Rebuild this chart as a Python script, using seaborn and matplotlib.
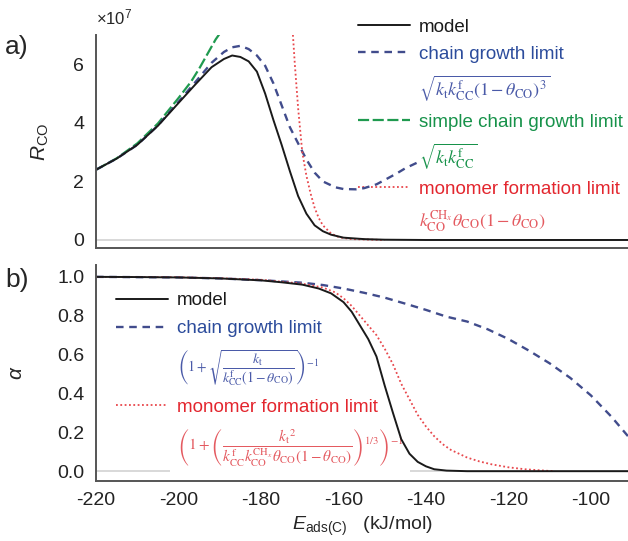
import numpy as np
import seaborn as sns
import matplotlib.pyplot as plt
from matplotlib.lines import Line2D

# ---- panel a) R_CO (units of 1e7) ----
e_model_a = [-220, -215, -210, -205, -200, -196, -192, -189, -187, -185, -183, -181, -179,
             -177, -175, -173, -171, -169, -167, -165, -163, -160, -155, -150, -140, -91]
r_model_a = [2.40, 2.78, 3.25, 3.90, 4.68, 5.30, 5.90, 6.18, 6.30, 6.25, 6.10, 5.75, 5.00,
             4.10, 3.25, 2.35, 1.50, 0.90, 0.50, 0.30, 0.18, 0.08, 0.03, 0.01, 0.0, 0.0]

e_chain_a = [-220, -215, -210, -205, -200, -196, -192, -189, -187, -185, -183, -181, -179,
             -177, -175, -173, -171, -169, -167, -165, -162, -160, -157, -155, -152, -150,
             -147, -145, -142]
r_chain_a = [2.40, 2.78, 3.25, 3.91, 4.72, 5.38, 6.05, 6.42, 6.58, 6.63, 6.52, 6.30, 5.95,
             5.35, 4.60, 3.85, 3.30, 2.75, 2.30, 2.00, 1.80, 1.74, 1.73, 1.77, 1.90, 2.05,
             2.28, 2.45, 2.65]

e_simple_a = [-220, -215, -210, -205, -200, -197, -195, -193, -191, -190]
r_simple_a = [2.40, 2.79, 3.30, 3.98, 4.85, 5.40, 5.85, 6.35, 6.85, 7.05]

e_mono_a = [-172.4, -171.8, -171, -170, -169, -168, -167, -166, -165, -163, -161, -158, -150]
r_mono_a = [7.30, 6.00, 4.50, 3.00, 2.20, 1.60, 1.10, 0.75, 0.50, 0.22, 0.09, 0.03, 0.0]

# ---- panel b) alpha ----
e_model_b = [-220, -210, -200, -190, -180, -175, -170, -166, -163, -160, -158, -156, -154,
             -152, -150, -148, -146, -144, -142, -140, -138, -135, -130, -91]
a_model_b = [1.0, 0.999, 0.997, 0.992, 0.982, 0.972, 0.960, 0.940, 0.915, 0.870, 0.820, 0.750,
             0.680, 0.590, 0.440, 0.300, 0.165, 0.090, 0.048, 0.025, 0.010, 0.003, 0.0, 0.0]

e_chain_b = [-220, -200, -190, -180, -170, -165, -160, -155, -150, -145, -140, -135, -130,
             -125, -120, -115, -110, -105, -100, -95, -91]
a_chain_b = [1.0, 0.997, 0.992, 0.983, 0.970, 0.958, 0.940, 0.918, 0.893, 0.862, 0.830, 0.795,
             0.770, 0.730, 0.680, 0.620, 0.555, 0.480, 0.390, 0.280, 0.180]

e_mono_b = [-220, -200, -190, -180, -170, -165, -162, -160, -158, -156, -154, -152, -150,
            -148, -146, -144, -142, -140, -138, -136, -134, -132, -130, -127, -124, -120,
            -116, -112, -109]
a_mono_b = [1.0, 0.998, 0.993, 0.985, 0.965, 0.945, 0.920, 0.890, 0.850, 0.800, 0.750, 0.700,
            0.630, 0.550, 0.450, 0.370, 0.290, 0.230, 0.180, 0.140, 0.110, 0.090, 0.070,
            0.050, 0.035, 0.020, 0.010, 0.004, 0.0]

x_ticks = [-220, -200, -180, -160, -140, -120, -100]
y_ticks_a = [0, 2, 4, 6]
y_ticks_b = [0.0, 0.2, 0.4, 0.6, 0.8, 1.0]

# colours
C_MODEL = '#1a1a1a'
C_BLUE_LINE = '#414c8c'
C_BLUE_TEXT = '#2c4c9c'
C_BLUE_FORM = '#4a5aa8'
C_GREEN_LINE = '#1f9a4f'
C_GREEN_TEXT = '#17924a'
C_RED_LINE = '#e8474c'
C_RED_TEXT = '#e3262e'
C_RED_FORM = '#e45a60'
C_SPINE = '#555555'

F_CHAIN_A = r'$\sqrt{k_\mathrm{t}k_\mathrm{CC}^\mathrm{f}(1-\theta_\mathrm{CO})^3}$'
F_SIMPLE_A = r'$\sqrt{k_\mathrm{t}k_\mathrm{CC}^\mathrm{f}}$'
F_MONO_A = r'$k_\mathrm{CO}^{\mathrm{CH}_x}\theta_\mathrm{CO}(1-\theta_\mathrm{CO})$'
F_CHAIN_B = (r'$\left(1+\sqrt{\dfrac{k_\mathrm{t}}{k_\mathrm{CC}^\mathrm{f}'
             r'(1-\theta_\mathrm{CO})}}\right)^{-1}$')
F_MONO_B = (r'$\left(1+\left(\dfrac{{k_\mathrm{t}}^2}{k_\mathrm{CC}^\mathrm{f}'
            r'k_\mathrm{CO}^{\mathrm{CH}_x}\theta_\mathrm{CO}(1-\theta_\mathrm{CO})}'
            r'\right)^{1/3}\right)^{-1}$')


def style_axes(ax):
    sns.despine(ax=ax)
    for side in ['left', 'bottom']:
        ax.spines[side].set_color(C_SPINE)
        ax.spines[side].set_linewidth(1.4)
    ax.tick_params(direction='out', length=5, width=1.3, color=C_SPINE,
                   labelsize=14, labelcolor='#222222')
    ax.axhline(0, color='#d6d6d6', lw=1.3, zorder=0.5)


def add_legend(ax, handles, labels, colors, form_sizes, anchor, spacing):
    leg = ax.legend(handles, labels, loc='upper left', bbox_to_anchor=anchor,
                    frameon=False, fontsize=13.5, handlelength=2.8, handletextpad=0.45,
                    labelspacing=spacing, borderaxespad=0, borderpad=0.2)
    leg.set_zorder(1.5)  # keep curves above the legend
    for i, txt in enumerate(leg.get_texts()):
        txt.set_color(colors[i])
        if i in form_sizes:
            txt.set_fontsize(form_sizes[i])
            txt.set_math_fontfamily('stix')
    return leg


def plot_panel_a(ax):
    sns.lineplot(x=e_simple_a, y=r_simple_a, ax=ax, color=C_GREEN_LINE, lw=1.6,
                 linestyle=(0, (5, 1.6)))
    h_simple = ax.lines[-1]
    sns.lineplot(x=e_chain_a, y=r_chain_a, ax=ax, color=C_BLUE_LINE, lw=1.7,
                 linestyle=(0, (3.2, 2.4)))
    h_chain = ax.lines[-1]
    sns.lineplot(x=e_mono_a, y=r_mono_a, ax=ax, color=C_RED_LINE, lw=1.3,
                 linestyle=(0, (1, 1.4)))
    h_mono = ax.lines[-1]
    sns.lineplot(x=e_model_a, y=r_model_a, ax=ax, color=C_MODEL, lw=1.4)
    h_model = ax.lines[-1]

    ax.set_xlim(-220, -91)
    ax.set_ylim(-0.29, 7.0)
    ax.set_xticks(x_ticks)
    ax.set_yticks(y_ticks_a)
    ax.tick_params(labelbottom=False)
    ax.set_ylabel(r'$R_\mathrm{CO}$', fontsize=15, labelpad=16)
    ax.text(0.0, 1.035, r'×10$^7$', transform=ax.transAxes, fontsize=12, va='bottom')
    style_axes(ax)

    blank = Line2D([], [], linestyle='none')
    handles = [h_model, h_chain, blank, h_simple, blank, h_mono, blank]
    labels = ['model', 'chain growth limit', F_CHAIN_A, 'simple chain growth limit',
              F_SIMPLE_A, 'monomer formation limit', F_MONO_A]
    colors = [C_MODEL, C_BLUE_TEXT, C_BLUE_FORM, C_GREEN_TEXT, C_GREEN_TEXT,
              C_RED_TEXT, C_RED_FORM]
    add_legend(ax, handles, labels, colors, {2: 13, 4: 13, 6: 13}, (0.485, 1.095), 0.55)


def plot_panel_b(ax):
    sns.lineplot(x=e_chain_b, y=a_chain_b, ax=ax, color=C_BLUE_LINE, lw=1.7,
                 linestyle=(0, (3.2, 2.4)))
    h_chain = ax.lines[-1]
    sns.lineplot(x=e_mono_b, y=a_mono_b, ax=ax, color=C_RED_LINE, lw=1.3,
                 linestyle=(0, (1, 1.4)))
    h_mono = ax.lines[-1]
    sns.lineplot(x=e_model_b, y=a_model_b, ax=ax, color=C_MODEL, lw=1.4)
    h_model = ax.lines[-1]

    ax.set_xlim(-220, -91)
    ax.set_ylim(-0.048, 1.06)
    ax.set_xticks(x_ticks)
    ax.set_yticks(y_ticks_b)
    ax.set_yticklabels([f'{v:.1f}' for v in y_ticks_b])
    ax.set_ylabel(r'$\alpha$', fontsize=15, labelpad=22)
    ax.set_xlabel(r'$E_\mathrm{ads(C)}$   (kJ/mol)', fontsize=14, labelpad=4)
    style_axes(ax)

    blank = Line2D([], [], linestyle='none')
    handles = [h_model, h_chain, blank, h_mono, blank]
    labels = ['model', 'chain growth limit', F_CHAIN_B, 'monomer formation limit', F_MONO_B]
    colors = [C_MODEL, C_BLUE_TEXT, C_BLUE_FORM, C_RED_TEXT, C_RED_FORM]
    leg = add_legend(ax, handles, labels, colors, {2: 10, 4: 11}, (0.03, 0.893), 0.58)
    # the formula sits on a white patch that hides the zero line beneath it
    leg.get_texts()[-1].set_bbox(dict(facecolor='white', edgecolor='none', pad=5))


def main():
    sns.set_style('white')
    plt.rcParams['font.family'] = ['Liberation Sans', 'DejaVu Sans']
    plt.rcParams['axes.unicode_minus'] = False
    plt.rcParams['mathtext.fontset'] = 'custom'
    plt.rcParams['mathtext.rm'] = 'Liberation Sans'
    plt.rcParams['mathtext.it'] = 'Liberation Sans:italic'
    plt.rcParams['mathtext.bf'] = 'Liberation Sans:bold'

    fig = plt.figure(figsize=(6.28, 5.41), dpi=100)
    ax_a = fig.add_axes([0.153, 0.5407, 0.847, 0.3946])
    ax_b = fig.add_axes([0.153, 0.1118, 0.847, 0.398])

    plot_panel_a(ax_a)
    plot_panel_b(ax_b)

    fig.text(0.008, 0.913, 'a)', fontsize=19, va='center')
    fig.text(0.008, 0.483, 'b)', fontsize=19, va='center')

    fig.savefig('out.png', dpi=100)
    plt.close(fig)


if __name__ == "__main__":
    main()
